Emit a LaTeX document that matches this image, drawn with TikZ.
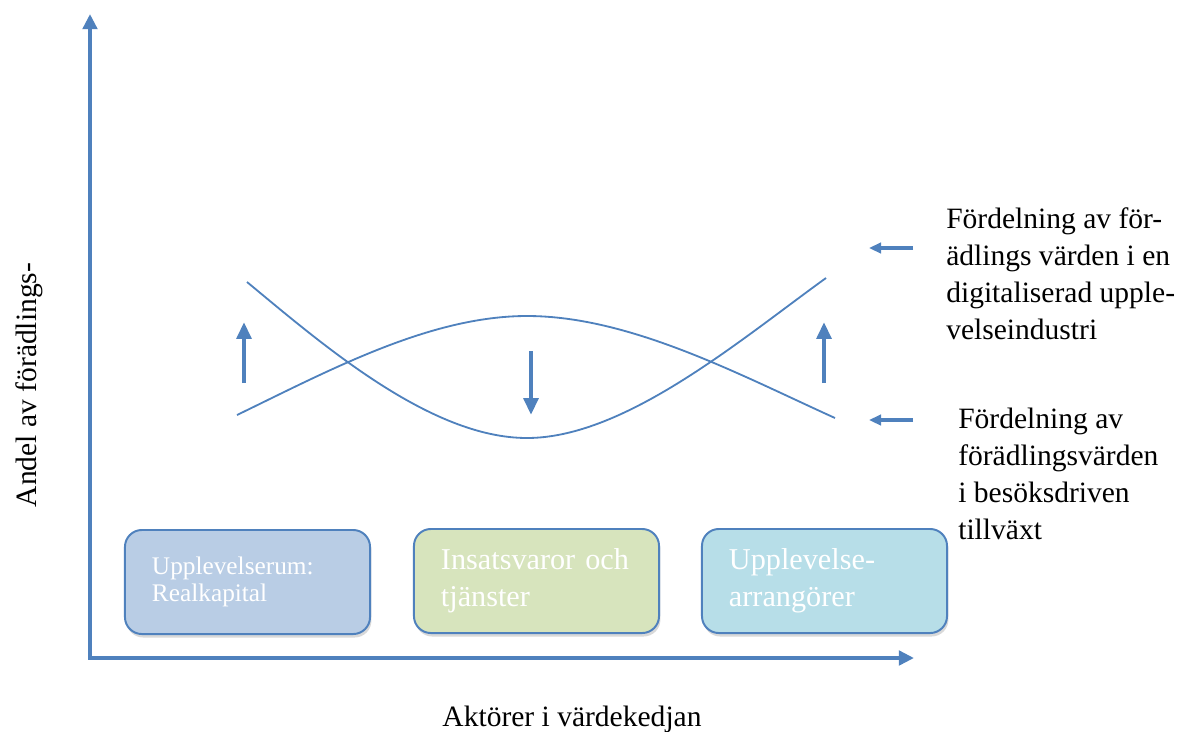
\documentclass[tikz,border=0pt]{standalone}
\usepackage{fontspec}
\setmainfont{Liberation Serif}
\usetikzlibrary{arrows.meta,shadows}
\definecolor{axblue}{HTML}{4F81BD}
\definecolor{rumfill}{HTML}{B9CDE5}
\definecolor{insfill}{HTML}{D7E4BD}
\definecolor{arrfill}{HTML}{B7DEE8}
\tikzset{
  axis/.style={draw=axblue, line width=3.5pt, line cap=rect,
    -{Triangle[length=0.38cm,width=0.36cm]}},
  trend/.style={draw=axblue, line width=3.2pt, -{Triangle[length=0.42cm,width=0.36cm]}},
  pointer/.style={draw=axblue, line width=2.5pt, -{Triangle[length=0.3cm,width=0.26cm]}},
  curve/.style={draw=axblue, line width=1.3pt},
  actor/.style={draw=axblue, line width=1.4pt, rounded corners=12pt,
    minimum width=6.125cm, minimum height=2.6cm, inner xsep=0.675cm,
    text width=4.775cm, align=left, text=white,
    drop shadow={shadow xshift=1pt, shadow yshift=-2.5pt, opacity=.3}},
  lbl/.style={font=\fontsize{21}{26.3}\selectfont, inner sep=0pt, align=left}
}
\begin{document}
\begin{tikzpicture}[x=0.025cm, y=-0.025cm]
  \useasboundingbox (0,0) rectangle (1182,731);

  % axes
  \coordinate (O) at (90,658);
  \coordinate (ytop) at (90,14);
  \coordinate (xend) at (914,658);
  \draw[axis] (O) -- (ytop);
  \draw[axis] (O) -- (xend);
  \node[lbl, rotate=90] (andel) at (29,385) {Andel av förädlings-};
  \node[lbl, anchor=base] (aktorer) at (572,726) {Aktörer i värdekedjan};

  % the two distributions
  \draw[curve] (247,282) .. controls (322,344) and (430,438) .. (527,438)
    .. controls (625,438) and (740,340) .. (826,278);
  \draw[curve] (237,415) .. controls (330,370) and (430,316) .. (527,316)
    .. controls (630,316) and (740,375) .. (835,418);

  \coordinate (l0) at (244,383); \coordinate (l1) at (244,322);
  \coordinate (m0) at (531,351); \coordinate (m1) at (531,415);
  \coordinate (r0) at (824,383); \coordinate (r1) at (824,322);
  \draw[trend] (l0) -- (l1);
  \draw[trend] (m0) -- (m1);
  \draw[trend] (r0) -- (r1);

  % legend
  \node[lbl, anchor=north west] (digital) at (946,207)
    {Fördelning av för-\\ädlings värden i en\\digitaliserad upple-\\velseindustri};
  \node[lbl, anchor=north west] (besok) at (958,408)
    {Fördelning av\\förädlingsvärden\\i besöksdriven\\tillväxt};
  \coordinate (d0) at (913,248); \coordinate (d1) at (869,248);
  \coordinate (b0) at (913,420); \coordinate (b1) at (869,420);
  \draw[pointer] (d0) -- (d1);
  \draw[pointer] (b0) -- (b1);

  % actors
  \node[actor, fill=rumfill, font=\fontsize{18}{19.5}\selectfont] (rum) at (247.5,582)
    {Upplevelserum:\\Realkapital};
  \node[actor, fill=insfill, font=\fontsize{21.5}{26.3}\selectfont] (insats) at (536.5,581)
    {Insatsvaror och\\tjänster};
  \node[actor, fill=arrfill, font=\fontsize{21.5}{26.3}\selectfont] (arrang) at (824.5,581)
    {Upplevelse-\\arrangörer};
\end{tikzpicture}
\end{document}
